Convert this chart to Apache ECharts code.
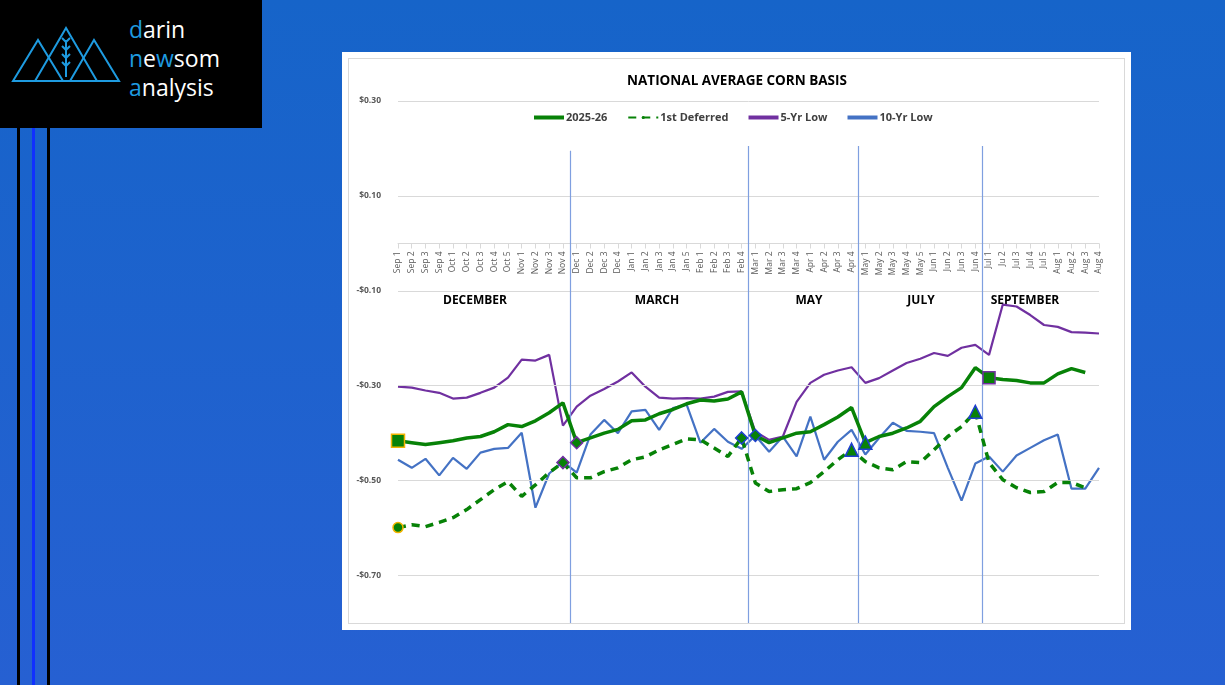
<!DOCTYPE html>
<html><head><meta charset="utf-8">
<script src="https://cdn.jsdelivr.net/npm/echarts@6/dist/echarts.min.js"></script>
<style>
html,body{margin:0;padding:0;width:1225px;height:685px;overflow:hidden;}
body{background:linear-gradient(180deg,#1664c9 0%,#2660d2 100%);position:relative;font-family:"Open Sans",sans-serif;}
#logo{position:absolute;left:0;top:0;width:262px;height:128px;background:#000;}
#logo .t{position:absolute;left:129px;top:15px;color:#fff;font-family:"Open Sans",Lato,sans-serif;font-size:23px;line-height:29px;font-weight:400;}
#logo .t b{color:#1e9be0;font-weight:400;}
.bar{position:absolute;top:128px;bottom:0;width:3px;}
#card{position:absolute;left:342px;top:52px;width:789px;height:578px;background:#fff;}
#inner{position:absolute;left:6px;top:6px;right:6px;bottom:6px;border:1px solid #d9d9d9;}
#chart{position:absolute;left:0;top:0;width:1225px;height:685px;}
</style></head><body>
<div id="logo">
<svg width="125" height="90" style="position:absolute;left:0;top:0" fill="none" stroke="#1e9be0" stroke-width="2">
<polygon points="13,81 38,40 63,81"/><polygon points="35,81 66,28 97,81"/><polygon points="70,81 94,40 119,81"/>
<line x1="66" y1="40" x2="66" y2="77"/>
<path d="M66 42 l-4 -4 M66 42 l4 -4 M66 50 l-4 -4 M66 50 l4 -4 M66 58 l-4 -4 M66 58 l4 -4 M66 66 l-4 -4 M66 66 l4 -4"/>
</svg>
<div class="t"><b>d</b>arin<br><b>n</b>e<b>w</b>som<br><b>a</b>nalysis</div>
</div>
<div class="bar" style="left:17px;background:#000"></div>
<div class="bar" style="left:32px;background:#1030ff"></div>
<div class="bar" style="left:47px;background:#000"></div>
<div id="card"><div id="inner"></div></div>
<div id="chart"></div>
<script>
const categories = ["Sep 1","Sep 2","Sep 3","Sep 4","Oct 1","Oct 2","Oct 3","Oct 4","Oct 5","Nov 1","Nov 2","Nov 3","Nov 4","Dec 1","Dec 2","Dec 3","Dec 4","Jan 1","Jan 2","Jan 3","Jan 4","Jan 5","Feb 1","Feb 2","Feb 3","Feb 4","Mar 1","Mar 2","Mar 3","Mar 4","Apr 1","Apr 2","Apr 3","Apr 4","May 1","May 2","May 3","May 4","May 5","Jun 1","Jun 2","Jun 3","Jun 4","Jul 1","Ju 2","Jul 3","Jul 4","Jul 5","Aug 1","Aug 2","Aug 3","Aug 4"];
const current = [-0.416,-0.42,-0.424,-0.42,-0.416,-0.41,-0.407,-0.397,-0.382,-0.386,-0.374,-0.357,-0.336,-0.42,-0.41,-0.40,-0.392,-0.374,-0.372,-0.359,-0.35,-0.338,-0.33,-0.332,-0.328,-0.313,-0.405,-0.42,-0.41,-0.40,-0.397,-0.382,-0.366,-0.346,-0.42,-0.407,-0.40,-0.389,-0.375,-0.344,-0.323,-0.304,-0.262,-0.283,-0.287,-0.289,-0.294,-0.294,-0.275,-0.264,-0.272,null];
const deferred = [-0.599,-0.593,-0.597,-0.588,-0.578,-0.561,-0.54,-0.519,-0.502,-0.533,-0.509,-0.483,-0.462,-0.494,-0.494,-0.481,-0.473,-0.456,-0.45,-0.435,-0.424,-0.412,-0.414,-0.431,-0.449,-0.41,-0.505,-0.523,-0.519,-0.517,-0.504,-0.481,-0.456,-0.435,-0.46,-0.473,-0.477,-0.46,-0.462,-0.435,-0.407,-0.386,-0.355,-0.462,-0.498,-0.515,-0.525,-0.523,-0.504,-0.504,-0.515,null];
const low5 = [-0.302,-0.304,-0.31,-0.315,-0.327,-0.325,-0.315,-0.304,-0.283,-0.245,-0.247,-0.235,-0.384,-0.344,-0.321,-0.307,-0.291,-0.272,-0.302,-0.325,-0.327,-0.326,-0.327,-0.323,-0.313,-0.312,-0.397,-0.414,-0.407,-0.334,-0.294,-0.277,-0.268,-0.261,-0.294,-0.284,-0.268,-0.252,-0.243,-0.231,-0.237,-0.22,-0.214,-0.235,-0.129,-0.133,-0.151,-0.172,-0.176,-0.187,-0.188,-0.19];
const low10 = [-0.456,-0.473,-0.454,-0.489,-0.452,-0.475,-0.441,-0.433,-0.431,-0.399,-0.557,-0.485,-0.46,-0.483,-0.403,-0.372,-0.40,-0.354,-0.351,-0.393,-0.347,-0.34,-0.42,-0.391,-0.418,-0.433,-0.405,-0.439,-0.407,-0.449,-0.365,-0.456,-0.418,-0.393,-0.445,-0.41,-0.378,-0.395,-0.397,-0.40,-0.473,-0.542,-0.464,-0.449,-0.481,-0.447,-0.431,-0.415,-0.403,-0.517,-0.517,-0.473];
const yTicks = [0.30,0.10,-0.10,-0.30,-0.50,-0.70];
const contractBreaks = [12.5,25.5,33.5,42.5];
const contractNames = ["DECEMBER","MARCH","MAY","JULY","SEPTEMBER"];
const contractLabelX = [475,657,809,921,1025];

const G='#078207';
function marked(arr, marks){
  return arr.map((v,i)=> marks[i] ? {value:v, symbolSize:marks[i].s, symbol:marks[i].sym, itemStyle:{color:G,borderColor:marks[i].b,borderWidth:1.5}} : {value:v});
}
const curMarks={0:{sym:'rect',s:13,b:'#f2b400'},13:{sym:'diamond',s:12,b:'#7030a0'},26:{sym:'diamond',s:12,b:'#1f3fd0'},34:{sym:'triangle',s:13,b:'#1f3fd0'},43:{sym:'rect',s:12,b:'#7030a0'}};
const defMarks={0:{sym:'circle',s:10,b:'#f2b400'},12:{sym:'diamond',s:12,b:'#7030a0'},25:{sym:'diamond',s:12,b:'#1f3fd0'},33:{sym:'triangle',s:13,b:'#1f3fd0'},42:{sym:'triangle',s:13,b:'#1f3fd0'}};
const fmt=v=>(v<0?'-$':'$')+Math.abs(v).toFixed(2);

const chart=echarts.init(document.getElementById('chart'),null,{renderer:'canvas'});
chart.setOption({
  animation:false,
  title:{text:'NATIONAL AVERAGE CORN BASIS',left:732,top:69,textAlign:'center',textStyle:{fontFamily:'Open Sans',fontSize:13.5,fontWeight:'bold',color:'#000'}},
  legend:{top:107,left:529,itemWidth:30,itemHeight:4,itemGap:20,textStyle:{fontFamily:'Open Sans',fontSize:11,fontWeight:'bold',color:'#404040',padding:[0,0,0,-3]},
    data:[{name:'2025-26',icon:'rect'},{name:'1st Deferred'},{name:'5-Yr Low',icon:'rect'},{name:'10-Yr Low',icon:'rect'}]},
  grid:{left:398,right:126,top:101,bottom:62},
  xAxis:[{type:'category',data:categories,boundaryGap:false,offset:-379.5,axisLine:{onZero:false,lineStyle:{color:'#d9d9d9'}},axisTick:{show:true,alignWithLabel:true,lineStyle:{color:'#d9d9d9'}},
    axisLabel:{rotate:90,fontSize:8.5,color:'#595959',interval:0,fontFamily:'Open Sans'}},
    {type:'value',min:0,max:51,show:false}],
  yAxis:{type:'value',min:-0.8,max:0.3,interval:0.1,splitLine:{show:false},axisLine:{show:false},axisTick:{show:false},
    axisLabel:{fontSize:8.5,fontWeight:'bold',color:'#595959',fontFamily:'Open Sans',margin:17,
      formatter:v=> yTicks.some(t=>Math.abs(t-v)<1e-6)?fmt(v):''}},
  graphic: contractNames.map((n,i)=>({type:'text',x:contractLabelX[i],y:295,style:{text:n,fill:'#000',font:'bold 12px "Open Sans"',textAlign:'center'}})),
  series:[
    {name:'grid',type:'line',data:[],silent:true,markLine:{silent:true,symbol:'none',label:{show:false},lineStyle:{color:'#d9d9d9',type:'solid',width:1},data:yTicks.map(t=>({yAxis:t}))}},
    {name:'breaks',type:'line',xAxisIndex:1,data:[],silent:true,markLine:{silent:true,symbol:'none',label:{show:false},lineStyle:{color:'#7f9fe0',type:'solid',width:1.2},
      data:contractBreaks.map((b,i)=>[{coord:[b,i==0?0.195:0.205]},{coord:[b,-0.8]}])}},
    {name:'5-Yr Low',type:'line',data:low5,symbol:'none',lineStyle:{color:'#7030a0',width:2.2},itemStyle:{color:'#7030a0'}},
    {name:'10-Yr Low',type:'line',data:low10,symbol:'none',lineStyle:{color:'#4472c4',width:2.2},itemStyle:{color:'#4472c4'}},
    {name:'2025-26',type:'line',data:marked(current,curMarks),symbol:'none',showSymbol:true,lineStyle:{color:G,width:3.5},itemStyle:{color:G},z:5},
    {name:'1st Deferred',type:'line',data:marked(deferred,defMarks),symbol:'none',showSymbol:true,lineStyle:{color:G,width:3.5,type:[8,6]},itemStyle:{color:G},z:5}
  ]
});
</script></body></html>
